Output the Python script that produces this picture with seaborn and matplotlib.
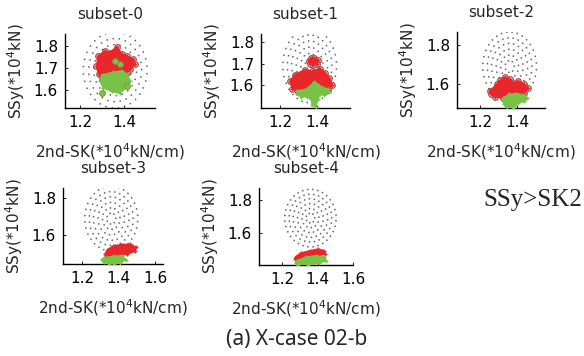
import numpy as np
import matplotlib
matplotlib.use("Agg")
import matplotlib.pyplot as plt
import seaborn as sns
import pandas as pd

sns.set_theme(style="white")
plt.rcParams['font.family'] = ['DejaVu Sans']

# ---------------- data ----------------
titles = ["subset-0", "subset-1", "subset-2", "subset-3", "subset-4"]
xlims = [(1.132, 1.541), (1.097, 1.578), (1.076, 1.551), (1.096, 1.643), (1.07, 1.60)]
ylims = [(1.516, 1.856), (1.49, 1.84), (1.48, 1.865), (1.445, 1.855), (1.405, 1.873)]
xticks = [[1.2, 1.4], [1.2, 1.4], [1.2, 1.4], [1.2, 1.4, 1.6], [1.2, 1.4, 1.6]]
yticks = [[1.6, 1.7, 1.8], [1.6, 1.7, 1.8], [1.6, 1.8], [1.6, 1.8], [1.6, 1.8]]

# sampling rings (dotted ellipses)
ring_center = (1.36, 1.69)
ring_radius = (0.145, 0.175)
ring_fraction = [0.17, 0.33, 0.5, 0.67, 0.83, 1.0]
ring_count = [7, 12, 17, 22, 27, 32]

# red (SSy governs) region outlines
red_x0 = [1.283, 1.314, 1.336, 1.367, 1.389, 1.412, 1.442, 1.45, 1.427, 1.412, 1.374, 1.336, 1.314, 1.298, 1.286, 1.275]
red_y0 = [1.755, 1.778, 1.771, 1.797, 1.766, 1.755, 1.740, 1.716, 1.693, 1.678, 1.685, 1.678, 1.670, 1.647, 1.670, 1.708]
red_x1 = [1.254, 1.281, 1.335, 1.371, 1.416, 1.443, 1.465, 1.483, 1.461, 1.425, 1.389, 1.362, 1.335, 1.299, 1.267]
red_y1 = [1.616, 1.648, 1.671, 1.663, 1.676, 1.656, 1.632, 1.600, 1.576, 1.584, 1.592, 1.584, 1.576, 1.568, 1.581]
red_x1b = [1.355, 1.365, 1.385, 1.405, 1.402, 1.38, 1.36]
red_y1b = [1.712, 1.725, 1.728, 1.718, 1.700, 1.695, 1.700]
red_x2 = [1.254, 1.29, 1.308, 1.335, 1.362, 1.38, 1.407, 1.438, 1.461, 1.438, 1.398, 1.362, 1.326, 1.281, 1.258]
red_y2 = [1.567, 1.60, 1.62, 1.637, 1.625, 1.608, 1.617, 1.60, 1.58, 1.558, 1.55, 1.547, 1.53, 1.537, 1.55]
red_x3 = [1.326, 1.34, 1.371, 1.417, 1.462, 1.493, 1.49, 1.444, 1.398, 1.353, 1.33]
red_y3 = [1.497, 1.523, 1.541, 1.55, 1.551, 1.537, 1.515, 1.497, 1.492, 1.483, 1.483]
red_x4 = [1.276, 1.306, 1.356, 1.402, 1.435, 1.443, 1.402, 1.346, 1.291, 1.272]
red_y4 = [1.453, 1.477, 1.491, 1.501, 1.493, 1.473, 1.461, 1.453, 1.436, 1.441]

# green (SK2 governs) region outlines
green_x0 = [1.30, 1.352, 1.389, 1.412, 1.428, 1.415, 1.38, 1.344, 1.305, 1.292]
green_y0 = [1.668, 1.680, 1.686, 1.672, 1.640, 1.612, 1.585, 1.592, 1.610, 1.640]
green_x1 = [1.29, 1.335, 1.362, 1.385, 1.407, 1.425, 1.458, 1.465, 1.44, 1.416, 1.404, 1.393, 1.375, 1.368, 1.344, 1.314, 1.296]
green_y1 = [1.571, 1.576, 1.592, 1.613, 1.60, 1.587, 1.581, 1.565, 1.552, 1.556, 1.533, 1.497, 1.505, 1.533, 1.544, 1.544, 1.556]
green_x2 = [1.326, 1.358, 1.395, 1.431, 1.456, 1.438, 1.407, 1.389, 1.377, 1.344, 1.33, 1.323]
green_y2 = [1.53, 1.55, 1.553, 1.547, 1.53, 1.513, 1.507, 1.497, 1.48, 1.483, 1.50, 1.517]
green_x3 = [1.322, 1.371, 1.417, 1.439, 1.408, 1.377, 1.348, 1.322, 1.308]
green_y3 = [1.479, 1.486, 1.49, 1.469, 1.45, 1.446, 1.447, 1.456, 1.469]
green_x4 = [1.287, 1.337, 1.393, 1.439, 1.448, 1.411, 1.346, 1.291, 1.276]
green_y4 = [1.432, 1.453, 1.461, 1.453, 1.432, 1.416, 1.408, 1.406, 1.42]

# scattered green points inside / outside the regions
gpts_x0 = [1.359, 1.382, 1.298, 1.412]
gpts_y0 = [1.732, 1.716, 1.584, 1.616]

red_sets = [[(red_x0, red_y0)], [(red_x1, red_y1), (red_x1b, red_y1b)], [(red_x2, red_y2)],
            [(red_x3, red_y3)], [(red_x4, red_y4)]]
green_sets = [(green_x0, green_y0), (green_x1, green_y1), (green_x2, green_y2),
              (green_x3, green_y3), (green_x4, green_y4)]

RED = "#e8262b"
GREEN = "#78c247"
EDGE = "#9c3a3a"

# axes placement in pixels: left, top, right, bottom
boxes = [(65, 34, 155, 108), (261, 34, 350, 108), (457, 32, 545, 108),
         (63, 188, 163, 264), (259, 188, 353, 265)]

W, H = 584, 356
fig = plt.figure(figsize=(W / 100, H / 100), dpi=100)

# ring dots as a table
rows = []
for f, n in zip(ring_fraction, ring_count):
    t = np.linspace(0, 2 * np.pi, n, endpoint=False) + 0.3 * f
    for a in t:
        rows.append((ring_center[0] + f * ring_radius[0] * np.cos(a),
                     ring_center[1] + f * ring_radius[1] * np.sin(a)))
rings = pd.DataFrame(rows, columns=["x", "y"])

for i in range(5):
    l, t, r, b = boxes[i]
    ax = fig.add_axes([l / W, 1 - b / H, (r - l) / W, (b - t) / H])
    sns.scatterplot(data=rings, x="x", y="y", ax=ax, s=1.6, color="#6a6a6a",
                    edgecolor="none", linewidth=0, zorder=1, legend=False)
    for (rx, ry) in red_sets[i]:
        if i in (0, 1, 2):
            sns.scatterplot(x=rx, y=ry, ax=ax, s=16, marker="o", facecolor="white",
                            edgecolor=EDGE, linewidth=0.8, zorder=2, legend=False)
        ax.fill(rx, ry, color=RED, lw=1.2, ec=RED, zorder=3)
        sns.scatterplot(x=rx, y=ry, ax=ax, s=12, marker="+", color=RED, linewidth=1,
                        zorder=3, legend=False)
    gx, gy = green_sets[i]
    ax.fill(gx, gy, color=GREEN, lw=1.2, ec=GREEN, zorder=4)
    sns.scatterplot(x=gx, y=gy, ax=ax, s=12, marker="+", color=GREEN, linewidth=1,
                    zorder=4, legend=False)
    if i == 0:
        sns.scatterplot(x=gpts_x0, y=gpts_y0, ax=ax, s=18, marker="o", color=GREEN,
                        edgecolor="#8a8a3a", linewidth=0.6, zorder=5, legend=False)

    ax.set_xlim(*xlims[i])
    ax.set_ylim(*ylims[i])
    ax.set_xticks(xticks[i])
    ax.set_yticks(yticks[i])
    ax.set_xticklabels([f"{v:.1f}" for v in xticks[i]])
    ax.set_yticklabels([f"{v:.1f}" for v in yticks[i]])
    for s in ("top", "right"):
        ax.spines[s].set_visible(False)
    for s in ("left", "bottom"):
        ax.spines[s].set_color("black")
        ax.spines[s].set_linewidth(1.0)
    ax.tick_params(direction="in", length=2, width=0.6, labelsize=11, pad=5,
                   bottom=True, left=True, colors="black")
    ax.set_facecolor("white")
    ax.set_title(titles[i], fontsize=11, pad=11)
    ax.set_xlabel("2nd-SK(*10$^4$kN/cm)", fontsize=11, labelpad=8)
    ax.set_ylabel("SSy(*10$^4$kN)", fontsize=11, labelpad=5)

fig.text(582 / W, 1 - 200 / H, "SSy>SK2", ha="right", va="center",
         fontsize=18, family="Liberation Serif")
fig.text(297 / W, 1 - 340 / H, "(a) X-case 02-b", ha="center", va="center",
         fontsize=15, family="Noto Sans")

fig.savefig("out.png", dpi=100, facecolor="white")
